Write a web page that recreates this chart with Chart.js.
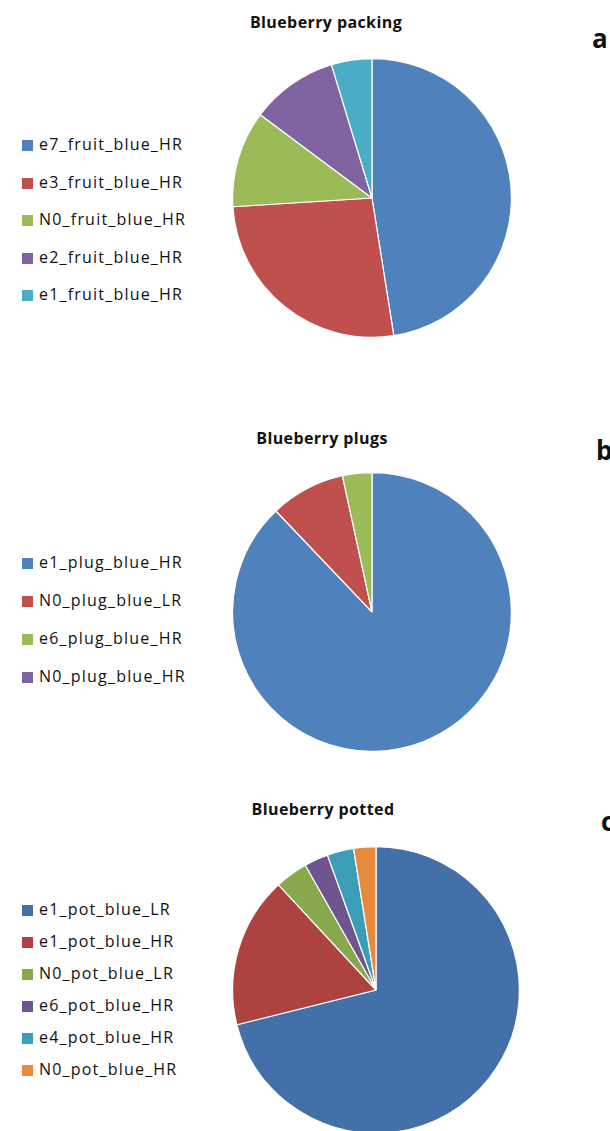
<!DOCTYPE html>
<html>
<head>
<meta charset="utf-8">
<script src="https://cdn.jsdelivr.net/npm/chart.js@4"></script>
<style>
  body { margin: 0; background: #fff; width: 610px; height: 1131px; overflow: hidden; position: relative; font-family: "Open Sans", sans-serif; }
  .title { position: absolute; font-weight: bold; font-size: 16px; letter-spacing: 0.4px; color: #111; transform: translateX(-50%); white-space: nowrap; }
  .letter { position: absolute; font-weight: bold; font-size: 26px; color: #111; }
  .legend { position: absolute; left: 22px; font-size: 16px; letter-spacing: 1.2px; color: #111; }
  .legend div { position: absolute; white-space: nowrap; left: 0; }
  .legend span { display: inline-block; width: 11px; height: 11px; margin-right: 6px; vertical-align: -1px; }
  canvas { position: absolute; }
</style>
</head>
<body>
<div class="title" style="left:326px;top:11px">Blueberry packing</div>
<div class="letter" style="left:592px;top:20px">a</div>
<div class="legend" id="legA"></div>
<canvas id="pieA" width="284" height="284" style="left:230px;top:56px"></canvas>

<div class="title" style="left:322px;top:427px">Blueberry plugs</div>
<div class="letter" style="left:596px;top:432px">b</div>
<div class="legend" id="legB"></div>
<canvas id="pieB" width="284" height="284" style="left:230px;top:470px"></canvas>

<div class="title" style="left:323px;top:798px">Blueberry potted</div>
<div class="letter" style="left:601px;top:803px">c</div>
<div class="legend" id="legC"></div>
<canvas id="pieC" width="292" height="292" style="left:230px;top:844px"></canvas>

<script>
const labelsA = ['e7_fruit_blue_HR', 'e3_fruit_blue_HR', 'N0_fruit_blue_HR', 'e2_fruit_blue_HR', 'e1_fruit_blue_HR']
const valuesA = [47.5, 26.5, 11.2, 10.1, 4.7]
const colorsA = ['#4F81BD', '#C0504D', '#9BBB59', '#8064A2', '#4BACC6']

const labelsB = ['e1_plug_blue_HR', 'N0_plug_blue_LR', 'e6_plug_blue_HR', 'N0_plug_blue_HR']
const valuesB = [87.9, 8.7, 3.4, 0]
const colorsB = ['#4F81BD', '#C0504D', '#9BBB59', '#8064A2']

const labelsC = ['e1_pot_blue_LR', 'e1_pot_blue_HR', 'N0_pot_blue_LR', 'e6_pot_blue_HR', 'e4_pot_blue_HR', 'N0_pot_blue_HR']
const valuesC = [71.1, 17.0, 3.7, 2.7, 3.0, 2.5]
const colorsC = ['#4470A9', '#AC4340', '#88A94B', '#6E5590', '#3C9DB8', '#E68A3E']

function leyenda(id, labels, colors, top, step) {
    const box = document.getElementById(id)
    box.style.top = top + 'px'
    labels.forEach((lab, i) => {
        let fila = document.createElement('div')
        fila.style.top = (i * step) + 'px'
        fila.innerHTML = `<span style="background:${colors[i]}"></span>${lab}`
        box.append(fila)
    })
}

function pastel(id, labels, values, colors) {
    new Chart(document.getElementById(id), {
        type: 'pie',
        data: {
            labels: labels,
            datasets: [{
                data: values,
                backgroundColor: colors,
                borderColor: '#ffffff',
                borderWidth: 1.2
            }]
        },
        options: {
            responsive: false,
            animation: false,
            layout: { padding: 2 },
            plugins: {
                legend: { display: false },
                tooltip: { enabled: false }
            }
        }
    })
}

leyenda('legA', labelsA, colorsA, 133, 37.5)
leyenda('legB', labelsB, colorsB, 551, 38)
leyenda('legC', labelsC, colorsC, 898, 32)

pastel('pieA', labelsA, valuesA, colorsA)
pastel('pieB', labelsB, valuesB, colorsB)
pastel('pieC', labelsC, valuesC, colorsC)
</script>
</body>
</html>
